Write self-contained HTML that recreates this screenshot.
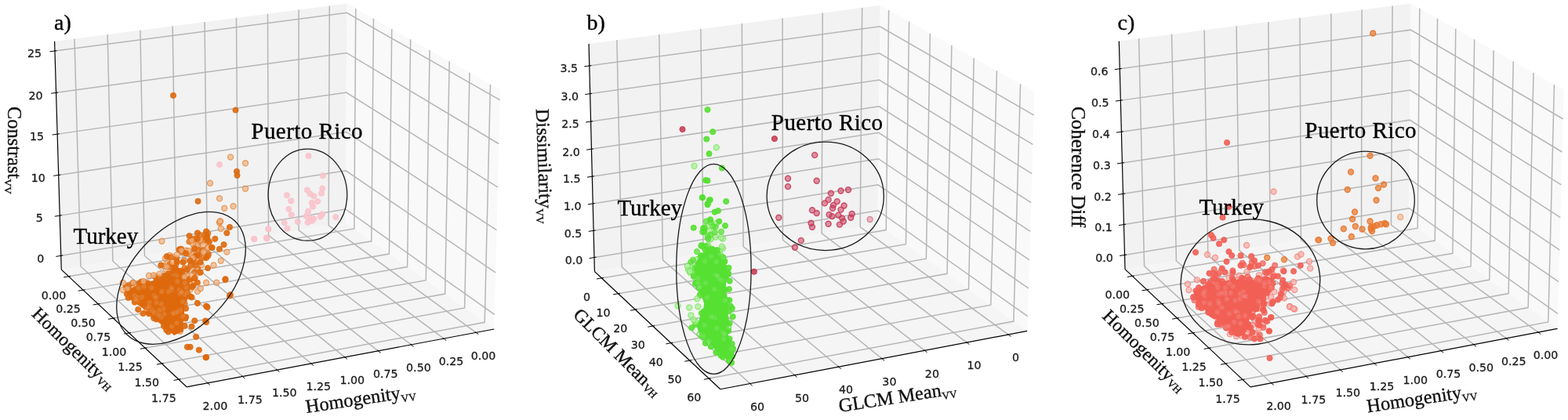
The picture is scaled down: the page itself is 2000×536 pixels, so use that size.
<!DOCTYPE html>
<html><head><meta charset="utf-8"><style>
html,body{margin:0;padding:0;background:#fff;}
svg{display:block;}
</style></head><body>
<svg width="2000" height="536" viewBox="0 0 2000 536">
<rect width="2000" height="536" fill="#fff"/>
<polygon points="440.69,284.05 78.30,344.08 69.59,52.74 442.38,4.61" fill="#f2f2f2"/>
<polygon points="440.69,284.05 630.27,420.01 637.94,114.69 442.38,4.61" fill="#f9f9f9"/>
<polygon points="440.69,284.05 78.30,344.08 238.08,493.79 630.27,420.01" fill="#f5f5f5"/>
<g fill="none" stroke="#b6b6b6" stroke-width="1.5"><polyline points="607.10,424.37 419.18,287.61 420.28,7.46"/><polyline points="565.97,432.10 381.03,293.93 381.08,12.52"/><polyline points="524.39,439.93 342.50,300.31 341.47,17.64"/><polyline points="482.34,447.84 303.58,306.76 301.45,22.80"/><polyline points="439.83,455.84 264.27,313.27 261.02,28.03"/><polyline points="396.83,463.93 224.55,319.85 220.16,33.30"/><polyline points="353.35,472.11 184.44,326.50 178.87,38.63"/><polyline points="309.37,480.38 143.91,333.21 137.15,44.02"/><polyline points="264.89,488.75 102.96,340.00 94.99,49.46"/><polyline points="87.58,352.78 451.76,291.98 453.77,11.02"/><polyline points="106.10,370.13 473.82,307.80 476.47,23.80"/><polyline points="125.10,387.93 496.41,324.01 499.74,36.90"/><polyline points="144.58,406.19 519.57,340.61 523.61,50.33"/><polyline points="164.58,424.93 543.30,357.63 548.09,64.11"/><polyline points="185.11,444.16 567.64,375.09 573.20,78.25"/><polyline points="206.20,463.92 592.60,392.99 598.98,92.76"/><polyline points="227.86,484.22 618.21,411.35 625.46,107.66"/><polyline points="77.77,326.33 440.80,267.00 630.74,401.43"/><polyline points="76.24,275.12 441.09,217.84 632.09,347.83"/><polyline points="74.69,223.39 441.39,168.20 633.45,293.64"/><polyline points="73.13,171.13 441.70,118.07 634.82,238.87"/><polyline points="71.55,118.33 442.00,67.45 636.21,183.51"/><polyline points="69.96,64.98 442.31,16.33 637.62,127.53"/></g>
<g fill="none" stroke="#000" stroke-width="1.2"><polyline points="69.59,52.74 78.30,344.08"/><polyline points="78.30,344.08 238.08,493.79"/><polyline points="238.08,493.79 630.27,420.01"/></g>
<g stroke="#000" stroke-width="1"><line x1="80.23" y1="325.93" x2="71.35" y2="327.38"/><line x1="78.71" y1="274.74" x2="69.82" y2="276.13"/><line x1="77.16" y1="223.02" x2="68.26" y2="224.36"/><line x1="75.60" y1="170.77" x2="66.69" y2="172.05"/><line x1="74.03" y1="117.99" x2="65.11" y2="119.21"/><line x1="72.43" y1="64.65" x2="63.51" y2="65.82"/><line x1="90.05" y1="352.37" x2="81.17" y2="353.85"/><line x1="108.57" y1="369.72" x2="99.69" y2="371.22"/><line x1="127.56" y1="387.51" x2="118.69" y2="389.03"/><line x1="147.04" y1="405.76" x2="138.18" y2="407.31"/><line x1="167.04" y1="424.49" x2="158.18" y2="426.06"/><line x1="187.57" y1="443.72" x2="178.72" y2="445.32"/><line x1="208.66" y1="463.47" x2="199.80" y2="465.09"/><line x1="230.32" y1="483.76" x2="221.47" y2="485.41"/><line x1="605.89" y1="423.48" x2="610.34" y2="426.72"/><line x1="564.77" y1="431.21" x2="569.18" y2="434.50"/><line x1="523.20" y1="439.01" x2="527.56" y2="442.36"/><line x1="481.17" y1="446.91" x2="485.48" y2="450.32"/><line x1="438.66" y1="454.89" x2="442.93" y2="458.36"/><line x1="395.68" y1="462.96" x2="399.90" y2="466.49"/><line x1="352.21" y1="471.13" x2="356.38" y2="474.72"/><line x1="308.25" y1="479.38" x2="312.36" y2="483.04"/><line x1="263.79" y1="487.73" x2="267.84" y2="491.45"/></g>
<g font-family="DejaVu Sans" font-size="14.2" text-anchor="middle" dominant-baseline="central" fill="#1a1a1a" stroke="#1a1a1a" stroke-width="0.3"><text x="51.8" y="329.6">0</text><text x="50.2" y="278.4">5</text><text x="48.7" y="226.6">10</text><text x="47.1" y="174.4">15</text><text x="45.6" y="121.6">20</text><text x="44.0" y="68.2">25</text><text x="68.6" y="376.8">0.00</text><text x="87.1" y="394.1">0.25</text><text x="106.1" y="411.9">0.50</text><text x="125.6" y="430.2">0.75</text><text x="145.6" y="448.9">1.00</text><text x="166.1" y="468.2">1.25</text><text x="187.2" y="487.9">1.50</text><text x="208.9" y="508.2">1.75</text><text x="616.6" y="453.7">0.00</text><text x="575.5" y="461.4">0.25</text><text x="533.9" y="469.2">0.50</text><text x="491.8" y="477.1">0.75</text><text x="449.3" y="485.1">1.00</text><text x="406.3" y="493.2">1.25</text><text x="362.8" y="501.4">1.50</text><text x="318.9" y="509.7">1.75</text><text x="274.4" y="518.0">2.00</text></g><g fill="#fce1e6" fill-opacity="0.75" stroke="#f9c3cc" stroke-opacity="0.55" stroke-width="1.2"></g>
<g fill="#f9c3cc" fill-opacity="0.90" stroke="#f9c3cc" stroke-opacity="0.90" stroke-width="1.0"><circle cx="393.5" cy="198.9" r="3.6"/><circle cx="411.9" cy="224.1" r="3.6"/><circle cx="365.9" cy="249.1" r="3.6"/><circle cx="371.2" cy="256.4" r="3.6"/><circle cx="368.3" cy="266.8" r="3.6"/><circle cx="371.7" cy="274.1" r="3.6"/><circle cx="391.8" cy="242.5" r="3.6"/><circle cx="395.5" cy="247.4" r="3.6"/><circle cx="400.3" cy="250.3" r="3.6"/><circle cx="411.2" cy="240.6" r="3.6"/><circle cx="410.0" cy="246.7" r="3.6"/><circle cx="397.9" cy="258.8" r="3.6"/><circle cx="405.2" cy="257.1" r="3.6"/><circle cx="399.1" cy="263.6" r="3.6"/><circle cx="393.0" cy="269.7" r="3.6"/><circle cx="390.6" cy="275.8" r="3.6"/><circle cx="395.5" cy="278.2" r="3.6"/><circle cx="400.3" cy="279.4" r="3.6"/><circle cx="408.8" cy="276.5" r="3.6"/><circle cx="411.2" cy="273.3" r="3.6"/><circle cx="392.5" cy="283.8" r="3.6"/><circle cx="397.9" cy="281.8" r="3.6"/><circle cx="428.2" cy="277.0" r="3.6"/><circle cx="362.7" cy="284.2" r="3.6"/><circle cx="366.4" cy="291.5" r="3.6"/><circle cx="379.7" cy="283.0" r="3.6"/><circle cx="342.1" cy="292.0" r="3.6"/><circle cx="339.7" cy="303.6" r="3.6"/><circle cx="280.0" cy="210.0" r="3.6"/><circle cx="323.8" cy="305.0" r="3.6"/><circle cx="340.0" cy="303.8" r="3.6"/><circle cx="342.5" cy="292.5" r="3.6"/><circle cx="324.5" cy="305.0" r="3.6"/><circle cx="340.5" cy="304.5" r="3.6"/></g>
<g fill="#eeb486" fill-opacity="0.70" stroke="#de690d" stroke-opacity="0.55" stroke-width="1.2"><circle cx="230.0" cy="410.8" r="3.6"/><circle cx="246.3" cy="323.0" r="3.6"/><circle cx="248.6" cy="354.7" r="3.6"/><circle cx="190.0" cy="351.7" r="3.6"/><circle cx="217.0" cy="365.9" r="3.6"/><circle cx="229.7" cy="422.7" r="3.6"/><circle cx="212.8" cy="413.4" r="3.6"/><circle cx="230.5" cy="360.7" r="3.6"/><circle cx="216.2" cy="325.9" r="3.6"/><circle cx="237.3" cy="319.8" r="3.6"/><circle cx="252.2" cy="313.8" r="3.6"/><circle cx="217.6" cy="404.2" r="3.6"/><circle cx="231.6" cy="390.5" r="3.6"/><circle cx="172.3" cy="364.3" r="3.6"/><circle cx="217.3" cy="407.4" r="3.6"/><circle cx="201.5" cy="371.7" r="3.6"/><circle cx="250.7" cy="343.1" r="3.6"/><circle cx="227.9" cy="376.9" r="3.6"/><circle cx="235.1" cy="332.8" r="3.6"/><circle cx="224.0" cy="342.7" r="3.6"/><circle cx="213.0" cy="365.1" r="3.6"/><circle cx="197.2" cy="391.7" r="3.6"/><circle cx="208.7" cy="362.0" r="3.6"/><circle cx="256.8" cy="338.5" r="3.6"/><circle cx="226.3" cy="382.9" r="3.6"/><circle cx="200.8" cy="361.4" r="3.6"/><circle cx="250.1" cy="311.4" r="3.6"/><circle cx="207.7" cy="400.1" r="3.6"/><circle cx="248.2" cy="360.6" r="3.6"/><circle cx="240.9" cy="323.2" r="3.6"/><circle cx="218.8" cy="410.7" r="3.6"/><circle cx="242.8" cy="369.4" r="3.6"/><circle cx="208.6" cy="408.3" r="3.6"/><circle cx="218.6" cy="417.8" r="3.6"/><circle cx="189.5" cy="398.8" r="3.6"/></g>
<g fill="#de690d" fill-opacity="0.75" stroke="#de690d" stroke-opacity="0.75" stroke-width="1.0"><circle cx="235.6" cy="387.2" r="3.6"/><circle cx="230.5" cy="420.5" r="3.6"/><circle cx="253.3" cy="308.3" r="3.6"/><circle cx="227.7" cy="356.2" r="3.6"/><circle cx="226.7" cy="379.7" r="3.6"/><circle cx="212.8" cy="375.6" r="3.6"/><circle cx="231.1" cy="317.6" r="3.6"/><circle cx="241.4" cy="308.4" r="3.6"/><circle cx="261.5" cy="299.7" r="3.6"/><circle cx="182.7" cy="367.6" r="3.6"/><circle cx="166.6" cy="370.7" r="3.6"/><circle cx="180.4" cy="382.1" r="3.6"/><circle cx="228.5" cy="318.6" r="3.6"/><circle cx="254.8" cy="300.2" r="3.6"/><circle cx="174.6" cy="375.4" r="3.6"/><circle cx="248.7" cy="334.6" r="3.6"/><circle cx="257.9" cy="319.3" r="3.6"/><circle cx="224.5" cy="377.0" r="3.6"/><circle cx="233.9" cy="376.1" r="3.6"/><circle cx="197.8" cy="387.9" r="3.6"/><circle cx="232.8" cy="321.6" r="3.6"/><circle cx="223.4" cy="417.0" r="3.6"/><circle cx="211.8" cy="379.4" r="3.6"/><circle cx="176.9" cy="380.1" r="3.6"/><circle cx="252.3" cy="342.8" r="3.6"/><circle cx="202.6" cy="364.0" r="3.6"/><circle cx="198.1" cy="353.3" r="3.6"/><circle cx="225.0" cy="332.7" r="3.6"/><circle cx="260.5" cy="328.7" r="3.6"/><circle cx="195.5" cy="402.3" r="3.6"/><circle cx="229.5" cy="318.0" r="3.6"/><circle cx="209.4" cy="409.0" r="3.6"/><circle cx="203.0" cy="386.4" r="3.6"/><circle cx="235.3" cy="342.0" r="3.6"/><circle cx="169.3" cy="361.3" r="3.6"/></g>
<g fill="#eeb486" fill-opacity="0.70" stroke="#de690d" stroke-opacity="0.55" stroke-width="1.2"><circle cx="219.6" cy="327.4" r="3.6"/><circle cx="254.9" cy="307.8" r="3.6"/><circle cx="241.7" cy="341.4" r="3.6"/><circle cx="251.0" cy="311.8" r="3.6"/><circle cx="237.3" cy="346.4" r="3.6"/><circle cx="243.0" cy="339.1" r="3.6"/><circle cx="213.6" cy="334.7" r="3.6"/><circle cx="244.3" cy="327.7" r="3.6"/><circle cx="210.9" cy="329.7" r="3.6"/><circle cx="264.4" cy="316.7" r="3.6"/><circle cx="258.0" cy="326.3" r="3.6"/><circle cx="253.4" cy="347.9" r="3.6"/><circle cx="265.4" cy="316.0" r="3.6"/><circle cx="245.1" cy="305.4" r="3.6"/><circle cx="254.7" cy="304.4" r="3.6"/><circle cx="250.4" cy="342.0" r="3.6"/><circle cx="211.6" cy="343.6" r="3.6"/><circle cx="209.9" cy="353.4" r="3.6"/><circle cx="239.3" cy="352.1" r="3.6"/><circle cx="217.2" cy="350.9" r="3.6"/><circle cx="244.7" cy="325.1" r="3.6"/><circle cx="246.0" cy="311.1" r="3.6"/><circle cx="247.5" cy="316.8" r="3.6"/><circle cx="208.2" cy="339.2" r="3.6"/><circle cx="254.5" cy="331.4" r="3.6"/><circle cx="240.3" cy="320.2" r="3.6"/><circle cx="233.8" cy="353.0" r="3.6"/><circle cx="235.3" cy="356.9" r="3.6"/><circle cx="234.8" cy="333.0" r="3.6"/><circle cx="254.9" cy="305.8" r="3.6"/></g>
<g fill="#de690d" fill-opacity="0.75" stroke="#de690d" stroke-opacity="0.75" stroke-width="1.0"><circle cx="231.5" cy="351.6" r="3.6"/><circle cx="216.7" cy="336.9" r="3.6"/><circle cx="243.7" cy="338.2" r="3.6"/><circle cx="264.1" cy="303.2" r="3.6"/><circle cx="263.9" cy="300.8" r="3.6"/><circle cx="229.7" cy="352.5" r="3.6"/><circle cx="249.2" cy="304.3" r="3.6"/><circle cx="254.1" cy="319.2" r="3.6"/><circle cx="259.5" cy="307.9" r="3.6"/><circle cx="223.9" cy="346.1" r="3.6"/><circle cx="215.4" cy="340.3" r="3.6"/><circle cx="213.2" cy="353.2" r="3.6"/><circle cx="249.6" cy="326.6" r="3.6"/><circle cx="211.4" cy="351.7" r="3.6"/><circle cx="222.4" cy="341.5" r="3.6"/><circle cx="265.1" cy="306.6" r="3.6"/><circle cx="245.9" cy="331.8" r="3.6"/><circle cx="244.5" cy="305.3" r="3.6"/><circle cx="262.5" cy="303.3" r="3.6"/><circle cx="265.3" cy="298.0" r="3.6"/><circle cx="224.1" cy="338.6" r="3.6"/><circle cx="248.0" cy="347.4" r="3.6"/><circle cx="254.5" cy="326.9" r="3.6"/><circle cx="269.9" cy="315.8" r="3.6"/><circle cx="265.9" cy="324.0" r="3.6"/><circle cx="265.5" cy="326.5" r="3.6"/><circle cx="225.2" cy="329.7" r="3.6"/><circle cx="217.9" cy="328.6" r="3.6"/><circle cx="249.5" cy="338.6" r="3.6"/><circle cx="242.4" cy="356.8" r="3.6"/></g>
<polygon points="160.5,371.9 173.6,364.5 188.5,360.0 201.6,356.3 212.8,349.6 224.0,345.8 233.3,349.6 238.9,358.9 242.6,368.2 240.7,379.4 235.1,388.7 235.1,401.8 233.3,413.0 229.6,424.2 222.1,427.9 212.8,420.4 199.7,409.3 188.5,398.1 175.4,388.7 164.3,381.3" fill="#de690d"/>
<g fill="#de690d" fill-opacity="0.90" stroke="#de690d" stroke-opacity="0.90" stroke-width="1.0"><circle cx="161.2" cy="368.4" r="3.6"/><circle cx="160.5" cy="366.8" r="3.6"/><circle cx="164.1" cy="364.5" r="3.6"/><circle cx="177.6" cy="361.8" r="3.6"/><circle cx="180.2" cy="359.6" r="3.6"/><circle cx="184.3" cy="360.7" r="3.6"/><circle cx="188.4" cy="361.4" r="3.6"/><circle cx="199.4" cy="358.6" r="3.6"/><circle cx="201.9" cy="353.8" r="3.6"/><circle cx="208.6" cy="352.3" r="3.6"/><circle cx="214.8" cy="349.4" r="3.6"/><circle cx="222.7" cy="342.7" r="3.6"/><circle cx="223.2" cy="348.0" r="3.6"/><circle cx="227.7" cy="345.7" r="3.6"/><circle cx="232.6" cy="346.1" r="3.6"/><circle cx="236.4" cy="360.3" r="3.6"/><circle cx="241.7" cy="356.1" r="3.6"/><circle cx="238.6" cy="362.5" r="3.6"/><circle cx="245.1" cy="366.2" r="3.6"/><circle cx="240.0" cy="376.0" r="3.6"/><circle cx="242.9" cy="378.5" r="3.6"/><circle cx="235.2" cy="380.2" r="3.6"/><circle cx="233.4" cy="383.2" r="3.6"/><circle cx="237.0" cy="393.7" r="3.6"/><circle cx="236.4" cy="406.5" r="3.6"/><circle cx="237.1" cy="404.5" r="3.6"/><circle cx="235.5" cy="415.9" r="3.6"/><circle cx="229.6" cy="416.2" r="3.6"/><circle cx="229.3" cy="420.2" r="3.6"/><circle cx="225.8" cy="421.9" r="3.6"/><circle cx="214.7" cy="423.5" r="3.6"/><circle cx="212.2" cy="420.9" r="3.6"/><circle cx="209.1" cy="416.2" r="3.6"/><circle cx="206.9" cy="407.6" r="3.6"/><circle cx="199.7" cy="407.5" r="3.6"/><circle cx="196.3" cy="406.1" r="3.6"/><circle cx="190.0" cy="400.2" r="3.6"/><circle cx="190.5" cy="398.9" r="3.6"/><circle cx="182.5" cy="400.0" r="3.6"/><circle cx="185.6" cy="388.2" r="3.6"/><circle cx="176.2" cy="395.0" r="3.6"/><circle cx="171.8" cy="385.6" r="3.6"/><circle cx="163.7" cy="379.9" r="3.6"/><circle cx="161.9" cy="375.2" r="3.6"/></g>
<g fill="#e89656" fill-opacity="0.40" stroke="#de690d" stroke-opacity="0.90" stroke-width="1.0"><circle cx="176.7" cy="367.6" r="3.6"/><circle cx="187.2" cy="394.4" r="3.6"/><circle cx="205.7" cy="387.8" r="3.6"/><circle cx="222.9" cy="399.6" r="3.6"/><circle cx="196.6" cy="377.4" r="3.6"/><circle cx="208.3" cy="394.0" r="3.6"/><circle cx="238.6" cy="373.6" r="3.6"/><circle cx="194.0" cy="396.2" r="3.6"/><circle cx="233.3" cy="403.8" r="3.6"/><circle cx="228.7" cy="370.2" r="3.6"/><circle cx="230.1" cy="395.8" r="3.6"/><circle cx="225.1" cy="351.2" r="3.6"/><circle cx="233.2" cy="385.2" r="3.6"/><circle cx="180.8" cy="379.3" r="3.6"/><circle cx="226.3" cy="359.0" r="3.6"/><circle cx="199.7" cy="386.2" r="3.6"/><circle cx="193.3" cy="367.3" r="3.6"/><circle cx="206.2" cy="372.1" r="3.6"/><circle cx="219.0" cy="369.9" r="3.6"/><circle cx="237.4" cy="366.8" r="3.6"/><circle cx="219.3" cy="416.7" r="3.6"/><circle cx="229.6" cy="375.2" r="3.6"/><circle cx="171.8" cy="377.4" r="3.6"/><circle cx="235.4" cy="375.7" r="3.6"/><circle cx="235.7" cy="361.1" r="3.6"/><circle cx="209.6" cy="401.0" r="3.6"/><circle cx="220.7" cy="349.3" r="3.6"/><circle cx="221.0" cy="399.8" r="3.6"/><circle cx="174.6" cy="379.5" r="3.6"/><circle cx="205.4" cy="404.8" r="3.6"/><circle cx="175.0" cy="383.6" r="3.6"/><circle cx="203.4" cy="396.3" r="3.6"/><circle cx="198.8" cy="379.7" r="3.6"/><circle cx="190.5" cy="386.3" r="3.6"/><circle cx="183.6" cy="365.7" r="3.6"/><circle cx="172.7" cy="382.0" r="3.6"/><circle cx="230.1" cy="374.0" r="3.6"/><circle cx="190.0" cy="391.4" r="3.6"/><circle cx="196.9" cy="399.2" r="3.6"/><circle cx="225.9" cy="398.0" r="3.6"/><circle cx="232.0" cy="372.6" r="3.6"/><circle cx="218.6" cy="367.5" r="3.6"/><circle cx="202.3" cy="401.8" r="3.6"/><circle cx="225.5" cy="412.2" r="3.6"/><circle cx="215.2" cy="372.2" r="3.6"/></g>
<g fill="#eeb486" fill-opacity="0.75" stroke="#de690d" stroke-opacity="0.55" stroke-width="1.2"><circle cx="206.4" cy="307.8" r="3.6"/><circle cx="281.8" cy="291.7" r="3.6"/><circle cx="279.9" cy="284.3" r="3.6"/><circle cx="281.0" cy="282.4" r="3.6"/><circle cx="244.5" cy="306.6" r="3.6"/><circle cx="255.7" cy="306.6" r="3.6"/><circle cx="289.3" cy="321.6" r="3.6"/><circle cx="281.8" cy="332.8" r="3.6"/><circle cx="272.5" cy="338.4" r="3.6"/><circle cx="231.4" cy="319.7" r="3.6"/><circle cx="259.4" cy="321.6" r="3.6"/><circle cx="225.8" cy="325.3" r="3.6"/><circle cx="220.2" cy="334.6" r="3.6"/><circle cx="212.8" cy="340.2" r="3.6"/><circle cx="244.5" cy="351.4" r="3.6"/><circle cx="196.0" cy="351.4" r="3.6"/><circle cx="203.4" cy="349.6" r="3.6"/><circle cx="156.8" cy="360.7" r="3.6"/><circle cx="169.9" cy="360.7" r="3.6"/><circle cx="182.9" cy="358.9" r="3.6"/><circle cx="162.4" cy="368.2" r="3.6"/><circle cx="156.8" cy="370.1" r="3.6"/><circle cx="276.2" cy="360.7" r="3.6"/><circle cx="263.1" cy="360.7" r="3.6"/><circle cx="251.9" cy="371.9" r="3.6"/><circle cx="259.4" cy="312.2" r="3.6"/><circle cx="246.3" cy="329.0" r="3.6"/><circle cx="235.1" cy="353.3" r="3.6"/><circle cx="255.7" cy="368.2" r="3.6"/><circle cx="294.0" cy="200.5" r="3.6"/><circle cx="313.0" cy="208.2" r="3.6"/><circle cx="268.0" cy="233.8" r="3.6"/><circle cx="313.0" cy="240.8" r="3.6"/><circle cx="280.0" cy="253.2" r="3.6"/><circle cx="286.2" cy="265.8" r="3.6"/><circle cx="297.5" cy="263.2" r="3.6"/><circle cx="280.8" cy="282.5" r="3.6"/></g>
<g fill="#de690d" fill-opacity="0.90" stroke="#de690d" stroke-opacity="0.90" stroke-width="1.0"><circle cx="241.5" cy="301.0" r="3.6"/><circle cx="251.9" cy="297.3" r="3.6"/><circle cx="263.1" cy="295.4" r="3.6"/><circle cx="293.0" cy="289.9" r="3.6"/><circle cx="289.3" cy="297.3" r="3.6"/><circle cx="266.9" cy="308.5" r="3.6"/><circle cx="274.3" cy="304.8" r="3.6"/><circle cx="285.5" cy="312.2" r="3.6"/><circle cx="279.9" cy="317.8" r="3.6"/><circle cx="237.0" cy="323.4" r="3.6"/><circle cx="248.2" cy="317.8" r="3.6"/><circle cx="251.9" cy="325.3" r="3.6"/><circle cx="263.1" cy="329.0" r="3.6"/><circle cx="265.0" cy="342.1" r="3.6"/><circle cx="255.7" cy="347.7" r="3.6"/><circle cx="248.2" cy="355.1" r="3.6"/><circle cx="212.8" cy="327.2" r="3.6"/><circle cx="233.3" cy="334.6" r="3.6"/><circle cx="242.6" cy="332.8" r="3.6"/><circle cx="205.3" cy="338.4" r="3.6"/><circle cx="220.2" cy="345.8" r="3.6"/><circle cx="229.6" cy="345.8" r="3.6"/><circle cx="238.9" cy="344.0" r="3.6"/><circle cx="214.6" cy="353.3" r="3.6"/><circle cx="287.4" cy="357.0" r="3.6"/><circle cx="293.0" cy="377.5" r="3.6"/><circle cx="244.5" cy="379.4" r="3.6"/><circle cx="263.1" cy="390.6" r="3.6"/><circle cx="251.9" cy="386.9" r="3.6"/><circle cx="248.2" cy="409.3" r="3.6"/><circle cx="263.1" cy="411.1" r="3.6"/><circle cx="244.5" cy="416.7" r="3.6"/><circle cx="250.1" cy="429.8" r="3.6"/><circle cx="238.9" cy="442.8" r="3.6"/><circle cx="242.6" cy="442.8" r="3.6"/><circle cx="253.8" cy="446.6" r="3.6"/><circle cx="263.1" cy="455.9" r="3.6"/><circle cx="251.9" cy="304.8" r="3.6"/><circle cx="270.6" cy="316.0" r="3.6"/><circle cx="255.7" cy="334.6" r="3.6"/><circle cx="225.8" cy="334.6" r="3.6"/><circle cx="251.9" cy="360.7" r="3.6"/><circle cx="246.3" cy="364.5" r="3.6"/><circle cx="221.0" cy="121.8" r="3.6"/><circle cx="300.5" cy="140.5" r="3.6"/><circle cx="302.0" cy="218.8" r="3.6"/><circle cx="302.5" cy="223.8" r="3.6"/><circle cx="252.5" cy="256.8" r="3.6"/><circle cx="262.5" cy="456.2" r="3.6"/><circle cx="262.0" cy="409.5" r="3.6"/><circle cx="264.5" cy="392.0" r="3.6"/><circle cx="287.5" cy="356.2" r="3.6"/><circle cx="293.8" cy="376.2" r="3.6"/></g>
<g fill="none" stroke="#1a1a1a" stroke-width="1.3"><ellipse cx="231.0" cy="354.8" rx="100.0" ry="62.5" transform="rotate(-46.7 231.0 354.8)"/><ellipse cx="392.4" cy="248.7" rx="50.3" ry="58.5" transform="rotate(0.0 392.4 248.7)"/></g>
<polygon points="1119.49,285.93 758.40,346.47 751.05,55.86 1122.56,6.86" fill="#f2f2f2"/>
<polygon points="1119.49,285.93 1310.17,422.46 1319.48,117.24 1122.56,6.86" fill="#f9f9f9"/>
<polygon points="1119.49,285.93 758.40,346.47 918.81,496.75 1310.17,422.46" fill="#f5f5f5"/>
<g fill="none" stroke="#b6b6b6" stroke-width="1.5"><polyline points="1286.13,427.02 1097.21,289.66 1099.67,9.88"/><polyline points="1233.13,437.08 1048.13,297.89 1049.22,16.53"/><polyline points="1179.38,447.29 998.42,306.23 998.11,23.27"/><polyline points="1124.87,457.64 948.08,314.67 946.33,30.10"/><polyline points="1069.59,468.13 897.10,323.21 893.87,37.02"/><polyline points="1013.52,478.77 845.46,331.87 840.71,44.03"/><polyline points="956.64,489.57 793.15,340.64 786.85,51.14"/><polyline points="767.39,354.89 1130.22,293.61 1133.61,13.05"/><polyline points="788.53,374.70 1155.44,311.67 1159.61,27.62"/><polyline points="810.30,395.09 1181.38,330.24 1186.35,42.62"/><polyline points="832.72,416.09 1208.06,349.35 1213.89,58.05"/><polyline points="855.82,437.74 1235.51,369.00 1242.24,73.95"/><polyline points="879.64,460.05 1263.77,389.24 1271.46,90.32"/><polyline points="904.20,483.06 1292.87,410.08 1301.57,107.20"/><polyline points="757.95,328.56 1119.68,268.71 1310.74,403.68"/><polyline points="757.09,294.33 1120.04,235.81 1311.84,367.78"/><polyline points="756.21,259.87 1120.41,202.69 1312.94,331.62"/><polyline points="755.34,225.17 1120.77,169.36 1314.05,295.19"/><polyline points="754.45,190.23 1121.14,135.81 1315.17,258.50"/><polyline points="753.56,155.05 1121.51,102.03 1316.30,221.53"/><polyline points="752.67,119.62 1121.89,68.02 1317.44,184.29"/><polyline points="751.76,83.94 1122.27,33.79 1318.58,146.78"/></g>
<g fill="none" stroke="#000" stroke-width="1.2"><polyline points="751.05,55.86 758.40,346.47"/><polyline points="758.40,346.47 918.81,496.75"/><polyline points="918.81,496.75 1310.17,422.46"/></g>
<g stroke="#000" stroke-width="1"><line x1="760.42" y1="328.15" x2="751.54" y2="329.62"/><line x1="759.55" y1="293.93" x2="750.67" y2="295.37"/><line x1="758.68" y1="259.49" x2="749.79" y2="260.88"/><line x1="757.81" y1="224.80" x2="748.91" y2="226.16"/><line x1="756.92" y1="189.87" x2="748.02" y2="191.19"/><line x1="756.04" y1="154.69" x2="747.13" y2="155.98"/><line x1="755.14" y1="119.27" x2="746.23" y2="120.52"/><line x1="754.24" y1="83.60" x2="745.32" y2="84.81"/><line x1="769.85" y1="354.47" x2="760.98" y2="355.97"/><line x1="791.00" y1="374.27" x2="782.13" y2="375.80"/><line x1="812.76" y1="394.66" x2="803.90" y2="396.21"/><line x1="835.18" y1="415.66" x2="826.32" y2="417.23"/><line x1="858.28" y1="437.29" x2="849.43" y2="438.89"/><line x1="882.10" y1="459.60" x2="873.24" y2="461.23"/><line x1="906.66" y1="482.60" x2="897.81" y2="484.26"/><line x1="1284.92" y1="426.14" x2="1289.37" y2="429.37"/><line x1="1231.93" y1="436.18" x2="1236.32" y2="439.49"/><line x1="1178.20" y1="446.37" x2="1182.53" y2="449.75"/><line x1="1123.71" y1="456.69" x2="1127.98" y2="460.15"/><line x1="1068.44" y1="467.17" x2="1072.66" y2="470.70"/><line x1="1012.39" y1="477.79" x2="1016.53" y2="481.41"/><line x1="955.53" y1="488.56" x2="959.60" y2="492.27"/></g>
<g font-family="DejaVu Sans" font-size="14.2" text-anchor="middle" dominant-baseline="central" fill="#1a1a1a" stroke="#1a1a1a" stroke-width="0.3"><text x="732.0" y="331.8">0.0</text><text x="731.1" y="297.6">0.5</text><text x="730.2" y="263.1">1.0</text><text x="729.3" y="228.4">1.5</text><text x="728.5" y="193.5">2.0</text><text x="727.6" y="158.3">2.5</text><text x="726.7" y="122.9">3.0</text><text x="725.8" y="87.2">3.5</text><text x="748.4" y="378.9">0</text><text x="769.5" y="398.7">10</text><text x="791.3" y="419.1">20</text><text x="813.7" y="440.1">30</text><text x="836.8" y="461.7">40</text><text x="860.6" y="484.0">50</text><text x="885.2" y="507.1">60</text><text x="1295.6" y="456.3">0</text><text x="1242.6" y="466.4">10</text><text x="1188.9" y="476.6">20</text><text x="1134.4" y="486.9">30</text><text x="1079.1" y="497.4">40</text><text x="1023.0" y="508.1">50</text><text x="966.1" y="518.9">60</text></g><g fill="#e49eac" fill-opacity="0.75" stroke="#c83c5a" stroke-opacity="0.55" stroke-width="1.2"><circle cx="1109.6" cy="280.0" r="3.6"/></g>
<g fill="#c83c5a" fill-opacity="0.55" stroke="#c83c5a" stroke-opacity="0.90" stroke-width="1.4"><circle cx="1039.2" cy="197.9" r="3.5"/><circle cx="1005.0" cy="227.7" r="3.5"/><circle cx="1041.7" cy="230.8" r="3.5"/><circle cx="1005.0" cy="238.1" r="3.5"/><circle cx="993.3" cy="277.7" r="3.5"/><circle cx="1021.8" cy="306.9" r="3.5"/><circle cx="1013.9" cy="315.8" r="3.5"/><circle cx="1036.0" cy="268.2" r="3.5"/><circle cx="1041.7" cy="272.0" r="3.5"/><circle cx="1034.5" cy="284.7" r="3.5"/><circle cx="1036.0" cy="289.8" r="3.5"/><circle cx="1051.9" cy="259.4" r="3.5"/><circle cx="1056.6" cy="254.9" r="3.5"/><circle cx="1059.8" cy="246.7" r="3.5"/><circle cx="1072.5" cy="243.5" r="3.5"/><circle cx="1082.0" cy="242.2" r="3.5"/><circle cx="1063.0" cy="261.9" r="3.5"/><circle cx="1067.7" cy="257.1" r="3.5"/><circle cx="1076.6" cy="262.5" r="3.5"/><circle cx="1062.0" cy="265.7" r="3.5"/><circle cx="1072.5" cy="267.6" r="3.5"/><circle cx="1057.6" cy="273.9" r="3.5"/><circle cx="1061.4" cy="276.1" r="3.5"/><circle cx="1069.3" cy="274.6" r="3.5"/><circle cx="1074.1" cy="278.4" r="3.5"/><circle cx="1075.7" cy="282.5" r="3.5"/><circle cx="1085.2" cy="277.7" r="3.5"/><circle cx="1086.7" cy="273.0" r="3.5"/><circle cx="1056.6" cy="285.7" r="3.5"/><circle cx="1070.9" cy="286.6" r="3.5"/></g>
<g fill="#e49aa8" fill-opacity="0.75" stroke="#c83650" stroke-opacity="0.55" stroke-width="1.2"></g>
<g fill="#c83650" fill-opacity="0.85" stroke="#c83650" stroke-opacity="0.95" stroke-width="1.0"><circle cx="870.5" cy="165.0" r="3.6"/><circle cx="987.9" cy="177.0" r="3.6"/><circle cx="961.9" cy="346.7" r="3.6"/></g>
<g fill="#aaf098" fill-opacity="0.70" stroke="#55e032" stroke-opacity="0.55" stroke-width="1.2"><circle cx="912.5" cy="302.5" r="3.6"/><circle cx="894.7" cy="313.0" r="3.6"/><circle cx="911.2" cy="330.3" r="3.6"/><circle cx="914.0" cy="284.8" r="3.6"/><circle cx="888.3" cy="339.5" r="3.6"/><circle cx="918.6" cy="353.6" r="3.6"/><circle cx="906.5" cy="305.3" r="3.6"/><circle cx="892.6" cy="329.2" r="3.6"/><circle cx="922.1" cy="304.6" r="3.6"/><circle cx="880.0" cy="347.5" r="3.6"/><circle cx="918.2" cy="331.5" r="3.6"/><circle cx="909.0" cy="333.8" r="3.6"/><circle cx="898.2" cy="291.8" r="3.6"/><circle cx="913.6" cy="320.9" r="3.6"/><circle cx="878.0" cy="343.9" r="3.6"/><circle cx="903.0" cy="312.9" r="3.6"/><circle cx="884.9" cy="348.1" r="3.6"/><circle cx="919.8" cy="303.0" r="3.6"/><circle cx="889.3" cy="331.2" r="3.6"/><circle cx="921.8" cy="343.1" r="3.6"/><circle cx="922.0" cy="317.1" r="3.6"/><circle cx="920.9" cy="314.7" r="3.6"/><circle cx="891.5" cy="340.4" r="3.6"/><circle cx="898.9" cy="356.3" r="3.6"/><circle cx="914.3" cy="332.9" r="3.6"/><circle cx="885.3" cy="351.3" r="3.6"/><circle cx="921.6" cy="328.8" r="3.6"/><circle cx="904.4" cy="294.7" r="3.6"/><circle cx="922.8" cy="339.9" r="3.6"/><circle cx="901.8" cy="289.5" r="3.6"/><circle cx="895.6" cy="313.7" r="3.6"/><circle cx="907.9" cy="317.8" r="3.6"/><circle cx="883.5" cy="342.8" r="3.6"/><circle cx="901.8" cy="314.5" r="3.6"/><circle cx="913.4" cy="339.2" r="3.6"/><circle cx="921.2" cy="344.1" r="3.6"/><circle cx="910.8" cy="336.6" r="3.6"/></g>
<g fill="#55e032" fill-opacity="0.75" stroke="#55e032" stroke-opacity="0.75" stroke-width="1.0"><circle cx="881.1" cy="334.7" r="3.6"/><circle cx="915.4" cy="341.1" r="3.6"/><circle cx="898.8" cy="290.5" r="3.6"/><circle cx="903.3" cy="304.9" r="3.6"/><circle cx="910.0" cy="320.6" r="3.6"/><circle cx="911.8" cy="296.7" r="3.6"/><circle cx="913.0" cy="337.7" r="3.6"/><circle cx="902.0" cy="319.5" r="3.6"/><circle cx="893.1" cy="341.6" r="3.6"/><circle cx="898.2" cy="292.9" r="3.6"/><circle cx="889.0" cy="321.1" r="3.6"/><circle cx="924.3" cy="354.6" r="3.6"/><circle cx="910.4" cy="341.7" r="3.6"/><circle cx="916.1" cy="332.7" r="3.6"/><circle cx="901.8" cy="335.0" r="3.6"/><circle cx="894.4" cy="313.7" r="3.6"/><circle cx="909.7" cy="288.9" r="3.6"/><circle cx="912.8" cy="289.6" r="3.6"/><circle cx="914.4" cy="346.5" r="3.6"/><circle cx="906.0" cy="317.9" r="3.6"/><circle cx="899.8" cy="341.6" r="3.6"/><circle cx="898.9" cy="317.8" r="3.6"/><circle cx="900.3" cy="314.2" r="3.6"/><circle cx="886.4" cy="341.8" r="3.6"/><circle cx="902.5" cy="302.3" r="3.6"/><circle cx="901.1" cy="332.6" r="3.6"/><circle cx="928.4" cy="347.6" r="3.6"/><circle cx="896.9" cy="313.9" r="3.6"/><circle cx="896.1" cy="296.1" r="3.6"/><circle cx="883.9" cy="331.6" r="3.6"/><circle cx="906.2" cy="299.4" r="3.6"/><circle cx="906.6" cy="283.6" r="3.6"/><circle cx="894.9" cy="350.4" r="3.6"/><circle cx="926.8" cy="351.9" r="3.6"/><circle cx="920.0" cy="295.6" r="3.6"/><circle cx="900.9" cy="282.4" r="3.6"/><circle cx="924.2" cy="333.8" r="3.6"/><circle cx="893.5" cy="346.7" r="3.6"/></g>
<polygon points="892.0,325.0 905.0,318.0 918.0,320.0 924.0,330.0 926.0,340.0 929.0,351.0 926.0,362.0 926.0,373.0 929.5,384.6 928.4,400.3 930.6,411.5 928.4,422.7 929.5,433.9 935.1,445.1 936.2,451.8 930.6,463.0 923.9,456.3 912.7,447.3 903.7,436.1 892.5,427.2 889.2,418.2 892.5,404.8 897.0,395.8 898.1,386.9 894.8,377.9 889.2,369.0 888.0,357.5 888.0,340.0" fill="#55e032"/>
<g fill="#55e032" fill-opacity="0.90" stroke="#55e032" stroke-opacity="0.90" stroke-width="1.0"><circle cx="894.0" cy="326.3" r="3.6"/><circle cx="899.7" cy="325.1" r="3.6"/><circle cx="905.0" cy="322.6" r="3.6"/><circle cx="909.1" cy="318.4" r="3.6"/><circle cx="914.6" cy="319.1" r="3.6"/><circle cx="922.3" cy="328.6" r="3.6"/><circle cx="922.3" cy="330.0" r="3.6"/><circle cx="924.1" cy="333.2" r="3.6"/><circle cx="923.0" cy="340.2" r="3.6"/><circle cx="923.2" cy="345.8" r="3.6"/><circle cx="929.1" cy="349.4" r="3.6"/><circle cx="925.0" cy="353.0" r="3.6"/><circle cx="930.7" cy="358.6" r="3.6"/><circle cx="929.9" cy="369.0" r="3.6"/><circle cx="925.1" cy="370.1" r="3.6"/><circle cx="930.4" cy="383.1" r="3.6"/><circle cx="927.2" cy="383.9" r="3.6"/><circle cx="931.8" cy="390.7" r="3.6"/><circle cx="933.8" cy="393.6" r="3.6"/><circle cx="929.8" cy="397.2" r="3.6"/><circle cx="934.7" cy="404.1" r="3.6"/><circle cx="925.1" cy="411.2" r="3.6"/><circle cx="929.2" cy="421.9" r="3.6"/><circle cx="927.6" cy="422.7" r="3.6"/><circle cx="930.4" cy="432.3" r="3.6"/><circle cx="929.3" cy="436.5" r="3.6"/><circle cx="933.6" cy="438.8" r="3.6"/><circle cx="935.3" cy="445.2" r="3.6"/><circle cx="933.9" cy="454.8" r="3.6"/><circle cx="929.9" cy="460.3" r="3.6"/><circle cx="933.0" cy="462.8" r="3.6"/><circle cx="922.0" cy="455.7" r="3.6"/><circle cx="919.5" cy="453.7" r="3.6"/><circle cx="913.4" cy="449.8" r="3.6"/><circle cx="906.8" cy="442.3" r="3.6"/><circle cx="899.8" cy="438.0" r="3.6"/><circle cx="898.5" cy="430.6" r="3.6"/><circle cx="895.4" cy="428.9" r="3.6"/><circle cx="882.2" cy="418.3" r="3.6"/><circle cx="887.2" cy="414.2" r="3.6"/><circle cx="898.7" cy="403.5" r="3.6"/><circle cx="894.9" cy="399.7" r="3.6"/><circle cx="897.9" cy="397.4" r="3.6"/><circle cx="901.3" cy="384.4" r="3.6"/><circle cx="898.7" cy="375.6" r="3.6"/><circle cx="892.7" cy="376.3" r="3.6"/><circle cx="891.0" cy="366.7" r="3.6"/><circle cx="886.8" cy="362.1" r="3.6"/><circle cx="887.9" cy="360.4" r="3.6"/><circle cx="884.8" cy="352.8" r="3.6"/><circle cx="889.5" cy="347.2" r="3.6"/><circle cx="889.2" cy="343.8" r="3.6"/><circle cx="890.6" cy="337.1" r="3.6"/><circle cx="892.1" cy="334.5" r="3.6"/></g>
<g fill="#88e970" fill-opacity="0.40" stroke="#55e032" stroke-opacity="0.90" stroke-width="1.0"><circle cx="892.7" cy="365.1" r="3.6"/><circle cx="911.3" cy="405.4" r="3.6"/><circle cx="890.4" cy="360.6" r="3.6"/><circle cx="924.8" cy="383.4" r="3.6"/><circle cx="932.5" cy="445.2" r="3.6"/><circle cx="906.9" cy="327.2" r="3.6"/><circle cx="931.4" cy="461.0" r="3.6"/><circle cx="912.6" cy="350.7" r="3.6"/><circle cx="914.2" cy="419.0" r="3.6"/><circle cx="911.2" cy="369.1" r="3.6"/><circle cx="899.9" cy="361.0" r="3.6"/><circle cx="890.4" cy="355.0" r="3.6"/><circle cx="923.1" cy="432.4" r="3.6"/><circle cx="907.5" cy="404.3" r="3.6"/><circle cx="898.6" cy="414.9" r="3.6"/><circle cx="922.1" cy="424.5" r="3.6"/><circle cx="920.9" cy="357.8" r="3.6"/><circle cx="913.6" cy="334.0" r="3.6"/><circle cx="897.1" cy="428.8" r="3.6"/><circle cx="892.0" cy="366.8" r="3.6"/><circle cx="929.3" cy="417.6" r="3.6"/><circle cx="923.9" cy="426.5" r="3.6"/><circle cx="922.4" cy="328.5" r="3.6"/><circle cx="917.5" cy="356.1" r="3.6"/><circle cx="892.4" cy="426.5" r="3.6"/><circle cx="904.4" cy="435.1" r="3.6"/><circle cx="915.0" cy="352.0" r="3.6"/><circle cx="902.0" cy="379.5" r="3.6"/><circle cx="918.7" cy="324.6" r="3.6"/><circle cx="898.8" cy="333.1" r="3.6"/></g>
<g fill="#aaf098" fill-opacity="0.75" stroke="#55e032" stroke-opacity="0.55" stroke-width="1.2"><circle cx="913.8" cy="188.2" r="3.6"/><circle cx="885.5" cy="211.8" r="3.6"/><circle cx="876.9" cy="339.5" r="3.6"/><circle cx="880.2" cy="346.3" r="3.6"/><circle cx="889.2" cy="381.3" r="3.6"/><circle cx="879.1" cy="392.5" r="3.6"/><circle cx="890.3" cy="391.3" r="3.6"/><circle cx="881.3" cy="402.5" r="3.6"/><circle cx="886.9" cy="410.4" r="3.6"/><circle cx="864.6" cy="390.2" r="3.6"/><circle cx="884.7" cy="408.1" r="3.6"/></g>
<g fill="#55e032" fill-opacity="0.90" stroke="#55e032" stroke-opacity="0.90" stroke-width="1.0"><circle cx="902.5" cy="140.0" r="3.6"/><circle cx="909.2" cy="168.2" r="3.6"/><circle cx="901.2" cy="177.5" r="3.6"/><circle cx="904.5" cy="196.2" r="3.6"/><circle cx="920.8" cy="214.5" r="3.6"/><circle cx="900.0" cy="230.0" r="3.6"/><circle cx="902.5" cy="230.5" r="3.6"/><circle cx="895.8" cy="252.0" r="3.6"/><circle cx="905.8" cy="255.0" r="3.6"/><circle cx="902.5" cy="260.0" r="3.6"/><circle cx="926.2" cy="257.0" r="3.6"/><circle cx="895.9" cy="252.2" r="3.6"/><circle cx="904.8" cy="255.6" r="3.6"/><circle cx="902.6" cy="261.2" r="3.6"/><circle cx="911.6" cy="270.6" r="3.6"/><circle cx="916.0" cy="269.0" r="3.6"/><circle cx="906.0" cy="280.2" r="3.6"/><circle cx="917.2" cy="282.5" r="3.6"/><circle cx="925.0" cy="288.1" r="3.6"/><circle cx="884.7" cy="290.7" r="3.6"/><circle cx="897.0" cy="291.4" r="3.6"/><circle cx="898.1" cy="295.9" r="3.6"/><circle cx="929.5" cy="341.8" r="3.6"/><circle cx="930.6" cy="412.6" r="3.6"/></g>
<g fill="none" stroke="#1a1a1a" stroke-width="1.3"><ellipse cx="910.4" cy="343.4" rx="47.7" ry="134.0" transform="rotate(0.0 910.4 343.4)"/><ellipse cx="1052.7" cy="250.4" rx="74.6" ry="69.2" transform="rotate(0.0 1052.7 250.4)"/></g>
<polygon points="1797.20,283.24 1435.01,343.66 1427.32,52.51 1799.47,4.42" fill="#f2f2f2"/>
<polygon points="1797.20,283.24 1986.52,419.42 1994.60,114.81 1799.47,4.42" fill="#f9f9f9"/>
<polygon points="1797.20,283.24 1435.01,343.66 1594.97,493.85 1986.52,419.42" fill="#f5f5f5"/>
<g fill="none" stroke="#b6b6b6" stroke-width="1.5"><polyline points="1962.03,424.08 1774.43,287.03 1776.11,7.44"/><polyline points="1921.16,431.85 1736.48,293.37 1737.15,12.48"/><polyline points="1879.83,439.70 1698.14,299.76 1697.79,17.56"/><polyline points="1838.02,447.65 1659.40,306.23 1658.00,22.70"/><polyline points="1795.74,455.69 1620.26,312.76 1617.79,27.90"/><polyline points="1752.97,463.82 1580.71,319.35 1577.15,33.15"/><polyline points="1709.70,472.04 1540.75,326.02 1536.07,38.46"/><polyline points="1665.92,480.37 1500.37,332.76 1494.54,43.83"/><polyline points="1621.63,488.78 1459.56,339.57 1452.57,49.25"/><polyline points="1444.27,352.35 1808.20,291.15 1810.79,10.82"/><polyline points="1462.85,369.80 1830.28,307.03 1833.50,23.67"/><polyline points="1481.91,387.69 1852.90,323.30 1856.77,36.84"/><polyline points="1501.46,406.05 1876.07,339.97 1880.64,50.34"/><polyline points="1521.52,424.89 1899.82,357.06 1905.12,64.19"/><polyline points="1542.12,444.23 1924.18,374.58 1930.23,78.40"/><polyline points="1563.27,464.09 1949.16,392.54 1956.01,92.98"/><polyline points="1585.00,484.50 1974.78,410.98 1982.47,107.95"/><polyline points="1434.53,325.39 1797.34,265.71 1987.03,400.33"/><polyline points="1433.50,286.52 1797.64,228.46 1988.10,359.71"/><polyline points="1432.47,247.36 1797.95,190.94 1989.19,318.77"/><polyline points="1431.42,207.91 1798.26,153.15 1990.28,277.51"/><polyline points="1430.37,168.17 1798.57,115.09 1991.39,235.92"/><polyline points="1429.31,128.12 1798.88,76.76 1992.50,194.00"/><polyline points="1428.25,87.77 1799.20,38.15 1993.62,151.75"/></g>
<g fill="none" stroke="#000" stroke-width="1.2"><polyline points="1427.32,52.51 1435.01,343.66"/><polyline points="1435.01,343.66 1594.97,493.85"/><polyline points="1594.97,493.85 1986.52,419.42"/></g>
<g stroke="#000" stroke-width="1"><line x1="1437.00" y1="324.98" x2="1428.11" y2="326.44"/><line x1="1435.97" y1="286.13" x2="1427.08" y2="287.54"/><line x1="1434.94" y1="246.98" x2="1426.04" y2="248.35"/><line x1="1433.90" y1="207.54" x2="1424.99" y2="208.87"/><line x1="1432.85" y1="167.81" x2="1423.94" y2="169.09"/><line x1="1431.79" y1="127.78" x2="1422.88" y2="129.02"/><line x1="1430.73" y1="87.44" x2="1421.81" y2="88.63"/><line x1="1446.73" y1="351.94" x2="1437.86" y2="353.43"/><line x1="1465.31" y1="369.38" x2="1456.44" y2="370.89"/><line x1="1484.37" y1="387.26" x2="1475.50" y2="388.80"/><line x1="1503.92" y1="405.61" x2="1495.05" y2="407.18"/><line x1="1523.98" y1="424.45" x2="1515.12" y2="426.03"/><line x1="1544.58" y1="443.78" x2="1535.72" y2="445.39"/><line x1="1565.73" y1="463.63" x2="1556.88" y2="465.28"/><line x1="1587.46" y1="484.03" x2="1578.62" y2="485.70"/><line x1="1960.82" y1="423.19" x2="1965.26" y2="426.44"/><line x1="1919.96" y1="430.95" x2="1924.36" y2="434.25"/><line x1="1878.64" y1="438.79" x2="1883.00" y2="442.14"/><line x1="1836.85" y1="446.72" x2="1841.16" y2="450.13"/><line x1="1794.58" y1="454.74" x2="1798.84" y2="458.21"/><line x1="1751.82" y1="462.85" x2="1756.03" y2="466.39"/><line x1="1708.56" y1="471.06" x2="1712.72" y2="474.66"/><line x1="1664.80" y1="479.37" x2="1668.91" y2="483.03"/><line x1="1620.53" y1="487.77" x2="1624.57" y2="491.49"/></g>
<g font-family="DejaVu Sans" font-size="14.2" text-anchor="middle" dominant-baseline="central" fill="#1a1a1a" stroke="#1a1a1a" stroke-width="0.3"><text x="1408.5" y="328.6">0.0</text><text x="1407.5" y="289.8">0.1</text><text x="1406.5" y="250.6">0.2</text><text x="1405.4" y="211.2">0.3</text><text x="1404.4" y="171.4">0.4</text><text x="1403.3" y="131.4">0.5</text><text x="1402.2" y="91.0">0.6</text><text x="1425.3" y="376.4">0.00</text><text x="1443.8" y="393.8">0.25</text><text x="1462.9" y="411.7">0.50</text><text x="1482.5" y="430.0">0.75</text><text x="1502.5" y="448.9">1.00</text><text x="1523.1" y="468.2">1.25</text><text x="1544.3" y="488.1">1.50</text><text x="1566.0" y="508.5">1.75</text><text x="1971.5" y="453.4">0.00</text><text x="1930.7" y="461.1">0.25</text><text x="1889.3" y="469.0">0.50</text><text x="1847.5" y="476.9">0.75</text><text x="1805.2" y="485.0">1.00</text><text x="1762.5" y="493.1">1.25</text><text x="1719.2" y="501.3">1.50</text><text x="1675.4" y="509.7">1.75</text><text x="1631.1" y="518.1">2.00</text></g><g fill="#f8afaa" fill-opacity="0.70" stroke="#f25f55" stroke-opacity="0.55" stroke-width="1.2"><circle cx="1589.0" cy="400.6" r="3.6"/><circle cx="1534.4" cy="378.5" r="3.6"/><circle cx="1610.0" cy="413.3" r="3.6"/><circle cx="1624.8" cy="351.2" r="3.6"/><circle cx="1605.6" cy="419.1" r="3.6"/><circle cx="1568.8" cy="426.4" r="3.6"/><circle cx="1565.2" cy="384.5" r="3.6"/><circle cx="1636.7" cy="345.2" r="3.6"/><circle cx="1579.1" cy="356.8" r="3.6"/><circle cx="1559.3" cy="382.9" r="3.6"/><circle cx="1539.3" cy="392.9" r="3.6"/><circle cx="1567.6" cy="414.3" r="3.6"/><circle cx="1605.3" cy="405.2" r="3.6"/><circle cx="1602.1" cy="426.6" r="3.6"/><circle cx="1610.9" cy="392.8" r="3.6"/><circle cx="1570.7" cy="366.1" r="3.6"/><circle cx="1580.6" cy="351.8" r="3.6"/><circle cx="1571.9" cy="382.3" r="3.6"/><circle cx="1516.4" cy="370.1" r="3.6"/><circle cx="1551.8" cy="395.9" r="3.6"/><circle cx="1605.0" cy="393.7" r="3.6"/><circle cx="1547.9" cy="368.3" r="3.6"/><circle cx="1597.1" cy="415.4" r="3.6"/><circle cx="1595.2" cy="424.8" r="3.6"/><circle cx="1546.1" cy="375.5" r="3.6"/><circle cx="1605.9" cy="351.1" r="3.6"/><circle cx="1612.1" cy="356.1" r="3.6"/><circle cx="1611.4" cy="414.1" r="3.6"/><circle cx="1600.4" cy="409.0" r="3.6"/><circle cx="1600.0" cy="425.7" r="3.6"/><circle cx="1572.1" cy="403.4" r="3.6"/><circle cx="1546.1" cy="399.4" r="3.6"/><circle cx="1609.2" cy="385.8" r="3.6"/><circle cx="1546.5" cy="383.6" r="3.6"/><circle cx="1594.1" cy="421.9" r="3.6"/><circle cx="1635.8" cy="376.2" r="3.6"/><circle cx="1544.0" cy="394.6" r="3.6"/><circle cx="1540.1" cy="373.0" r="3.6"/><circle cx="1598.7" cy="395.5" r="3.6"/><circle cx="1556.0" cy="346.9" r="3.6"/><circle cx="1590.3" cy="347.1" r="3.6"/><circle cx="1597.3" cy="358.7" r="3.6"/><circle cx="1583.8" cy="377.1" r="3.6"/><circle cx="1590.9" cy="426.6" r="3.6"/><circle cx="1625.4" cy="372.4" r="3.6"/><circle cx="1620.4" cy="387.0" r="3.6"/><circle cx="1637.9" cy="380.6" r="3.6"/><circle cx="1526.8" cy="357.1" r="3.6"/><circle cx="1604.1" cy="368.6" r="3.6"/><circle cx="1571.2" cy="371.0" r="3.6"/><circle cx="1557.4" cy="376.9" r="3.6"/><circle cx="1577.0" cy="429.4" r="3.6"/><circle cx="1637.4" cy="372.0" r="3.6"/><circle cx="1583.2" cy="428.2" r="3.6"/><circle cx="1567.5" cy="354.5" r="3.6"/><circle cx="1544.7" cy="383.5" r="3.6"/><circle cx="1577.4" cy="422.8" r="3.6"/><circle cx="1533.4" cy="392.8" r="3.6"/><circle cx="1621.4" cy="379.3" r="3.6"/><circle cx="1597.9" cy="396.8" r="3.6"/><circle cx="1542.5" cy="362.4" r="3.6"/><circle cx="1573.5" cy="375.8" r="3.6"/><circle cx="1588.8" cy="378.7" r="3.6"/><circle cx="1614.8" cy="379.0" r="3.6"/><circle cx="1611.0" cy="363.6" r="3.6"/></g>
<g fill="#f25f55" fill-opacity="0.75" stroke="#f25f55" stroke-opacity="0.75" stroke-width="1.0"><circle cx="1563.8" cy="383.3" r="3.6"/><circle cx="1639.4" cy="363.1" r="3.6"/><circle cx="1635.4" cy="361.6" r="3.6"/><circle cx="1528.7" cy="391.8" r="3.6"/><circle cx="1533.2" cy="371.4" r="3.6"/><circle cx="1547.5" cy="348.4" r="3.6"/><circle cx="1585.5" cy="390.4" r="3.6"/><circle cx="1639.5" cy="364.6" r="3.6"/><circle cx="1594.0" cy="341.3" r="3.6"/><circle cx="1584.6" cy="335.6" r="3.6"/><circle cx="1554.2" cy="361.1" r="3.6"/><circle cx="1610.7" cy="336.1" r="3.6"/><circle cx="1606.2" cy="404.0" r="3.6"/><circle cx="1612.8" cy="398.9" r="3.6"/><circle cx="1589.4" cy="407.3" r="3.6"/><circle cx="1615.8" cy="348.6" r="3.6"/><circle cx="1586.3" cy="355.9" r="3.6"/><circle cx="1572.4" cy="417.3" r="3.6"/><circle cx="1604.5" cy="375.6" r="3.6"/><circle cx="1604.0" cy="375.1" r="3.6"/><circle cx="1611.4" cy="418.1" r="3.6"/><circle cx="1524.7" cy="378.7" r="3.6"/><circle cx="1596.8" cy="334.2" r="3.6"/><circle cx="1643.1" cy="367.8" r="3.6"/><circle cx="1577.7" cy="425.6" r="3.6"/><circle cx="1569.6" cy="417.3" r="3.6"/><circle cx="1571.0" cy="364.1" r="3.6"/><circle cx="1550.8" cy="350.8" r="3.6"/><circle cx="1572.4" cy="345.3" r="3.6"/><circle cx="1554.5" cy="349.2" r="3.6"/><circle cx="1546.5" cy="401.8" r="3.6"/><circle cx="1591.5" cy="353.2" r="3.6"/><circle cx="1541.2" cy="398.1" r="3.6"/><circle cx="1600.1" cy="362.0" r="3.6"/><circle cx="1558.8" cy="377.6" r="3.6"/><circle cx="1590.7" cy="380.4" r="3.6"/><circle cx="1607.3" cy="380.6" r="3.6"/><circle cx="1613.6" cy="347.5" r="3.6"/><circle cx="1567.3" cy="418.2" r="3.6"/><circle cx="1605.2" cy="359.1" r="3.6"/><circle cx="1632.8" cy="379.7" r="3.6"/><circle cx="1544.0" cy="393.3" r="3.6"/><circle cx="1626.1" cy="338.6" r="3.6"/><circle cx="1569.3" cy="375.3" r="3.6"/><circle cx="1594.2" cy="430.2" r="3.6"/><circle cx="1523.4" cy="383.1" r="3.6"/><circle cx="1567.5" cy="371.5" r="3.6"/><circle cx="1549.6" cy="357.0" r="3.6"/><circle cx="1589.6" cy="375.7" r="3.6"/><circle cx="1611.8" cy="396.5" r="3.6"/><circle cx="1645.4" cy="364.3" r="3.6"/><circle cx="1635.5" cy="369.2" r="3.6"/><circle cx="1604.5" cy="414.1" r="3.6"/><circle cx="1567.5" cy="375.7" r="3.6"/><circle cx="1600.4" cy="339.9" r="3.6"/><circle cx="1586.4" cy="338.2" r="3.6"/><circle cx="1543.5" cy="394.7" r="3.6"/><circle cx="1548.5" cy="343.7" r="3.6"/><circle cx="1584.6" cy="375.2" r="3.6"/><circle cx="1565.1" cy="410.2" r="3.6"/><circle cx="1611.4" cy="388.1" r="3.6"/><circle cx="1599.0" cy="390.3" r="3.6"/><circle cx="1606.8" cy="427.3" r="3.6"/><circle cx="1575.2" cy="411.6" r="3.6"/><circle cx="1553.2" cy="392.9" r="3.6"/></g>
<polygon points="1523.0,372.0 1535.0,364.0 1550.0,361.0 1565.0,358.0 1580.0,357.0 1600.0,358.0 1615.0,352.0 1625.0,356.0 1622.0,368.0 1612.0,380.0 1600.0,392.0 1594.0,405.0 1592.0,418.0 1587.0,428.0 1578.0,429.0 1566.0,420.0 1553.0,409.0 1540.0,398.0 1530.0,388.0 1523.0,380.0" fill="#f25f55"/>
<g fill="#f25f55" fill-opacity="0.90" stroke="#f25f55" stroke-opacity="0.90" stroke-width="1.0"><circle cx="1525.4" cy="371.1" r="3.6"/><circle cx="1529.0" cy="367.0" r="3.6"/><circle cx="1535.9" cy="368.7" r="3.6"/><circle cx="1540.9" cy="363.5" r="3.6"/><circle cx="1543.5" cy="360.1" r="3.6"/><circle cx="1553.7" cy="358.2" r="3.6"/><circle cx="1552.7" cy="359.8" r="3.6"/><circle cx="1558.9" cy="363.9" r="3.6"/><circle cx="1559.1" cy="358.9" r="3.6"/><circle cx="1571.8" cy="354.9" r="3.6"/><circle cx="1573.4" cy="358.4" r="3.6"/><circle cx="1584.1" cy="354.7" r="3.6"/><circle cx="1581.1" cy="359.7" r="3.6"/><circle cx="1593.8" cy="356.7" r="3.6"/><circle cx="1589.5" cy="361.4" r="3.6"/><circle cx="1599.5" cy="360.8" r="3.6"/><circle cx="1604.9" cy="355.1" r="3.6"/><circle cx="1608.9" cy="357.7" r="3.6"/><circle cx="1618.6" cy="346.7" r="3.6"/><circle cx="1617.7" cy="358.4" r="3.6"/><circle cx="1624.1" cy="352.6" r="3.6"/><circle cx="1623.5" cy="361.7" r="3.6"/><circle cx="1621.8" cy="366.8" r="3.6"/><circle cx="1617.9" cy="370.9" r="3.6"/><circle cx="1616.2" cy="374.0" r="3.6"/><circle cx="1611.3" cy="379.6" r="3.6"/><circle cx="1611.3" cy="384.9" r="3.6"/><circle cx="1603.7" cy="389.3" r="3.6"/><circle cx="1601.0" cy="394.7" r="3.6"/><circle cx="1598.3" cy="403.0" r="3.6"/><circle cx="1597.4" cy="404.9" r="3.6"/><circle cx="1592.0" cy="413.7" r="3.6"/><circle cx="1593.3" cy="417.8" r="3.6"/><circle cx="1585.8" cy="418.4" r="3.6"/><circle cx="1587.9" cy="429.9" r="3.6"/><circle cx="1580.0" cy="425.8" r="3.6"/><circle cx="1576.6" cy="424.7" r="3.6"/><circle cx="1571.0" cy="424.0" r="3.6"/><circle cx="1564.0" cy="418.5" r="3.6"/><circle cx="1556.5" cy="414.0" r="3.6"/><circle cx="1552.8" cy="413.8" r="3.6"/><circle cx="1553.2" cy="411.3" r="3.6"/><circle cx="1549.6" cy="403.7" r="3.6"/><circle cx="1545.2" cy="400.7" r="3.6"/><circle cx="1541.5" cy="398.8" r="3.6"/><circle cx="1532.5" cy="393.0" r="3.6"/><circle cx="1530.1" cy="387.2" r="3.6"/><circle cx="1528.7" cy="388.3" r="3.6"/><circle cx="1522.1" cy="379.1" r="3.6"/></g>
<g fill="#f68f88" fill-opacity="0.40" stroke="#f25f55" stroke-opacity="0.90" stroke-width="1.0"><circle cx="1535.7" cy="386.4" r="3.6"/><circle cx="1562.9" cy="367.1" r="3.6"/><circle cx="1603.8" cy="356.9" r="3.6"/><circle cx="1554.6" cy="375.1" r="3.6"/><circle cx="1578.3" cy="398.5" r="3.6"/><circle cx="1564.9" cy="418.7" r="3.6"/><circle cx="1562.9" cy="375.4" r="3.6"/><circle cx="1612.5" cy="365.0" r="3.6"/><circle cx="1543.1" cy="387.6" r="3.6"/><circle cx="1586.6" cy="377.2" r="3.6"/><circle cx="1580.0" cy="404.0" r="3.6"/><circle cx="1562.4" cy="372.9" r="3.6"/><circle cx="1551.8" cy="362.6" r="3.6"/><circle cx="1581.1" cy="381.6" r="3.6"/><circle cx="1582.0" cy="412.6" r="3.6"/><circle cx="1572.6" cy="365.7" r="3.6"/><circle cx="1621.2" cy="363.7" r="3.6"/><circle cx="1607.4" cy="357.9" r="3.6"/><circle cx="1585.6" cy="372.5" r="3.6"/><circle cx="1553.7" cy="384.3" r="3.6"/><circle cx="1536.3" cy="377.5" r="3.6"/><circle cx="1536.6" cy="371.8" r="3.6"/><circle cx="1582.0" cy="375.0" r="3.6"/><circle cx="1620.9" cy="367.2" r="3.6"/><circle cx="1558.3" cy="392.5" r="3.6"/><circle cx="1586.1" cy="378.3" r="3.6"/><circle cx="1567.9" cy="400.3" r="3.6"/><circle cx="1569.6" cy="373.8" r="3.6"/><circle cx="1564.9" cy="381.6" r="3.6"/><circle cx="1552.8" cy="398.3" r="3.6"/><circle cx="1575.3" cy="383.7" r="3.6"/><circle cx="1589.2" cy="378.3" r="3.6"/><circle cx="1618.5" cy="360.0" r="3.6"/><circle cx="1605.2" cy="384.4" r="3.6"/><circle cx="1563.5" cy="416.9" r="3.6"/><circle cx="1612.6" cy="361.0" r="3.6"/><circle cx="1574.3" cy="411.1" r="3.6"/><circle cx="1534.9" cy="374.3" r="3.6"/><circle cx="1558.1" cy="374.0" r="3.6"/><circle cx="1567.1" cy="416.2" r="3.6"/><circle cx="1575.8" cy="397.4" r="3.6"/><circle cx="1588.2" cy="402.9" r="3.6"/><circle cx="1568.1" cy="361.8" r="3.6"/><circle cx="1553.2" cy="367.1" r="3.6"/><circle cx="1554.9" cy="387.1" r="3.6"/></g>
<g fill="#f8afaa" fill-opacity="0.75" stroke="#f25f55" stroke-opacity="0.55" stroke-width="1.2"><circle cx="1590.0" cy="313.0" r="3.6"/><circle cx="1540.0" cy="325.0" r="3.6"/><circle cx="1550.0" cy="328.8" r="3.6"/><circle cx="1515.0" cy="362.5" r="3.6"/><circle cx="1655.0" cy="327.5" r="3.6"/><circle cx="1659.5" cy="324.5" r="3.6"/><circle cx="1670.0" cy="333.8" r="3.6"/><circle cx="1671.2" cy="342.5" r="3.6"/><circle cx="1650.0" cy="360.0" r="3.6"/><circle cx="1651.2" cy="370.0" r="3.6"/><circle cx="1645.0" cy="391.2" r="3.6"/><circle cx="1651.2" cy="394.5" r="3.6"/><circle cx="1645.0" cy="391.2" r="3.6"/><circle cx="1650.0" cy="393.8" r="3.6"/><circle cx="1624.5" cy="244.5" r="3.6"/></g>
<g fill="#f25f55" fill-opacity="0.90" stroke="#f25f55" stroke-opacity="0.90" stroke-width="1.0"><circle cx="1545.0" cy="300.0" r="3.6"/><circle cx="1547.5" cy="303.8" r="3.6"/><circle cx="1561.2" cy="306.2" r="3.6"/><circle cx="1555.0" cy="311.2" r="3.6"/><circle cx="1525.0" cy="322.0" r="3.6"/><circle cx="1567.5" cy="321.2" r="3.6"/><circle cx="1571.2" cy="326.2" r="3.6"/><circle cx="1582.5" cy="326.2" r="3.6"/><circle cx="1596.2" cy="327.0" r="3.6"/><circle cx="1600.0" cy="332.5" r="3.6"/><circle cx="1564.5" cy="333.8" r="3.6"/><circle cx="1582.5" cy="338.8" r="3.6"/><circle cx="1595.0" cy="340.0" r="3.6"/><circle cx="1605.0" cy="338.8" r="3.6"/><circle cx="1622.5" cy="343.8" r="3.6"/><circle cx="1558.8" cy="342.5" r="3.6"/><circle cx="1562.5" cy="347.5" r="3.6"/><circle cx="1542.5" cy="348.8" r="3.6"/><circle cx="1547.5" cy="355.0" r="3.6"/><circle cx="1572.5" cy="347.5" r="3.6"/><circle cx="1535.0" cy="358.8" r="3.6"/><circle cx="1658.8" cy="338.8" r="3.6"/><circle cx="1650.0" cy="346.2" r="3.6"/><circle cx="1636.2" cy="357.5" r="3.6"/><circle cx="1621.2" cy="405.0" r="3.6"/><circle cx="1616.2" cy="410.0" r="3.6"/><circle cx="1606.2" cy="408.8" r="3.6"/><circle cx="1618.8" cy="422.5" r="3.6"/><circle cx="1595.0" cy="417.5" r="3.6"/><circle cx="1637.5" cy="346.2" r="3.6"/><circle cx="1630.0" cy="352.5" r="3.6"/><circle cx="1637.5" cy="366.2" r="3.6"/><circle cx="1633.8" cy="375.0" r="3.6"/><circle cx="1623.8" cy="385.0" r="3.6"/><circle cx="1612.5" cy="387.5" r="3.6"/><circle cx="1602.5" cy="393.8" r="3.6"/><circle cx="1611.2" cy="395.0" r="3.6"/><circle cx="1600.0" cy="432.5" r="3.6"/><circle cx="1607.5" cy="432.5" r="3.6"/><circle cx="1606.2" cy="415.0" r="3.6"/><circle cx="1618.8" cy="422.5" r="3.6"/><circle cx="1605.0" cy="408.8" r="3.6"/><circle cx="1613.8" cy="408.8" r="3.6"/><circle cx="1621.2" cy="405.0" r="3.6"/><circle cx="1597.5" cy="423.8" r="3.6"/><circle cx="1619.5" cy="457.0" r="3.6"/><circle cx="1611.2" cy="395.0" r="3.6"/><circle cx="1602.5" cy="393.8" r="3.6"/><circle cx="1630.0" cy="382.5" r="3.6"/><circle cx="1622.5" cy="387.5" r="3.6"/><circle cx="1565.0" cy="182.0" r="3.6"/><circle cx="1559.5" cy="277.5" r="3.6"/><circle cx="1567.5" cy="263.8" r="3.6"/></g>
<g fill="#f4bb96" fill-opacity="0.75" stroke="#e8772e" stroke-opacity="0.55" stroke-width="1.2"><circle cx="1786.2" cy="277.0" r="3.6"/><circle cx="1681.2" cy="306.2" r="3.6"/></g>
<g fill="#e8772e" fill-opacity="0.70" stroke="#e8772e" stroke-opacity="0.95" stroke-width="1.3"><circle cx="1751.2" cy="42.5" r="3.5"/><circle cx="1747.5" cy="198.8" r="3.5"/><circle cx="1723.0" cy="219.5" r="3.5"/><circle cx="1754.5" cy="227.5" r="3.5"/><circle cx="1765.0" cy="235.5" r="3.5"/><circle cx="1758.0" cy="240.0" r="3.5"/><circle cx="1718.8" cy="242.0" r="3.5"/><circle cx="1755.5" cy="255.5" r="3.5"/><circle cx="1728.0" cy="270.5" r="3.5"/><circle cx="1725.0" cy="279.5" r="3.5"/><circle cx="1747.5" cy="282.5" r="3.5"/><circle cx="1728.8" cy="288.8" r="3.5"/><circle cx="1713.8" cy="292.0" r="3.5"/><circle cx="1737.5" cy="292.5" r="3.5"/><circle cx="1748.8" cy="290.0" r="3.5"/><circle cx="1752.5" cy="288.8" r="3.5"/><circle cx="1756.2" cy="287.5" r="3.5"/><circle cx="1761.2" cy="286.2" r="3.5"/><circle cx="1766.2" cy="285.0" r="3.5"/><circle cx="1768.0" cy="286.2" r="3.5"/><circle cx="1750.0" cy="295.0" r="3.5"/><circle cx="1748.8" cy="292.5" r="3.5"/><circle cx="1723.8" cy="302.0" r="3.5"/><circle cx="1697.5" cy="304.5" r="3.5"/><circle cx="1700.0" cy="310.0" r="3.5"/><circle cx="1682.0" cy="306.2" r="3.5"/><circle cx="1616.2" cy="328.8" r="3.5"/><circle cx="1638.0" cy="331.2" r="3.5"/></g>
<g fill="none" stroke="#1a1a1a" stroke-width="1.3"><ellipse cx="1594.9" cy="359.9" rx="89.0" ry="79.9" transform="rotate(-6.8 1594.9 359.9)"/><ellipse cx="1742.0" cy="255.5" rx="62.3" ry="62.3" transform="rotate(0.0 1742.0 255.5)"/></g>
<text x="69.0" y="37.5" font-family="Liberation Serif, Times New Roman, serif" font-size="28.0" letter-spacing="0.00" fill="#000" stroke="#000" stroke-width="0.35">a)</text>
<text x="748.5" y="37.5" font-family="Liberation Serif, Times New Roman, serif" font-size="28.0" letter-spacing="0.00" fill="#000" stroke="#000" stroke-width="0.35">b)</text>
<text x="1425.5" y="37.5" font-family="Liberation Serif, Times New Roman, serif" font-size="28.0" letter-spacing="0.00" fill="#000" stroke="#000" stroke-width="0.35">c)</text>
<text transform="translate(10.0,136.0) rotate(90.0)" font-family="Liberation Serif, Times New Roman, serif" font-size="24.4" fill="#111" stroke="#111" stroke-width="0.35">Constrast<tspan font-size="13.5" dx="0.0" dy="4.5">VV</tspan></text>
<text transform="translate(683.8,139.0) rotate(88.0)" font-family="Liberation Serif, Times New Roman, serif" font-size="24.4" fill="#111" stroke="#111" stroke-width="0.35">Dissimilarity<tspan font-size="13.5" dx="0.0" dy="4.5">VV</tspan></text>
<text transform="translate(1367.0,136.0) rotate(90.0)" font-family="Liberation Serif, Times New Roman, serif" font-size="25.0" fill="#111" stroke="#111" stroke-width="0.35">Coherence Diff<tspan font-size="13.5" dx="0.0" dy="4.5"></tspan></text>
<text transform="translate(39.5,402.0) rotate(44.5)" font-family="Liberation Serif, Times New Roman, serif" font-size="23.5" fill="#111" stroke="#111" stroke-width="0.35">Homogenity<tspan font-size="13.5" dx="1.0" dy="2.5">VH</tspan></text>
<text transform="translate(730.0,403.0) rotate(45.0)" font-family="Liberation Serif, Times New Roman, serif" font-size="23.5" fill="#111" stroke="#111" stroke-width="0.35">GLCM Mean<tspan font-size="13.5" dx="1.0" dy="2.5">VH</tspan></text>
<text transform="translate(1405.0,404.8) rotate(44.5)" font-family="Liberation Serif, Times New Roman, serif" font-size="23.5" fill="#111" stroke="#111" stroke-width="0.35">Homogenity<tspan font-size="13.5" dx="1.0" dy="2.5">VH</tspan></text>
<text transform="translate(391.0,527.0) rotate(-8.5)" font-family="Liberation Serif, Times New Roman, serif" font-size="24.4" fill="#111" stroke="#111" stroke-width="0.35">Homogenity<tspan font-size="13.5" dx="0.0" dy="4.5">VV</tspan></text>
<text transform="translate(1071.0,526.0) rotate(-8.9)" font-family="Liberation Serif, Times New Roman, serif" font-size="24.4" fill="#111" stroke="#111" stroke-width="0.35">GLCM Mean<tspan font-size="13.5" dx="0.0" dy="4.5">VV</tspan></text>
<text transform="translate(1744.5,526.4) rotate(-8.5)" font-family="Liberation Serif, Times New Roman, serif" font-size="24.4" fill="#111" stroke="#111" stroke-width="0.35">Homogenity<tspan font-size="13.5" dx="0.0" dy="4.5">VV</tspan></text>
<text x="93.5" y="311.2" font-family="Liberation Serif, Times New Roman, serif" font-size="29.0" letter-spacing="0.00" fill="#000" stroke="#000" stroke-width="0.35">Turkey</text>
<text x="320.3" y="176.8" font-family="Liberation Serif, Times New Roman, serif" font-size="29.0" letter-spacing="0.45" fill="#000" stroke="#000" stroke-width="0.35">Puerto Rico</text>
<text x="787.4" y="274.8" font-family="Liberation Serif, Times New Roman, serif" font-size="29.0" letter-spacing="0.00" fill="#000" stroke="#000" stroke-width="0.35">Turkey</text>
<text x="983.8" y="166.4" font-family="Liberation Serif, Times New Roman, serif" font-size="29.0" letter-spacing="0.45" fill="#000" stroke="#000" stroke-width="0.35">Puerto Rico</text>
<text x="1529.4" y="273.7" font-family="Liberation Serif, Times New Roman, serif" font-size="29.0" letter-spacing="0.00" fill="#000" stroke="#000" stroke-width="0.35">Turkey</text>
<text x="1664.3" y="176.4" font-family="Liberation Serif, Times New Roman, serif" font-size="29.0" letter-spacing="0.45" fill="#000" stroke="#000" stroke-width="0.35">Puerto Rico</text>
</svg>
</body></html>
